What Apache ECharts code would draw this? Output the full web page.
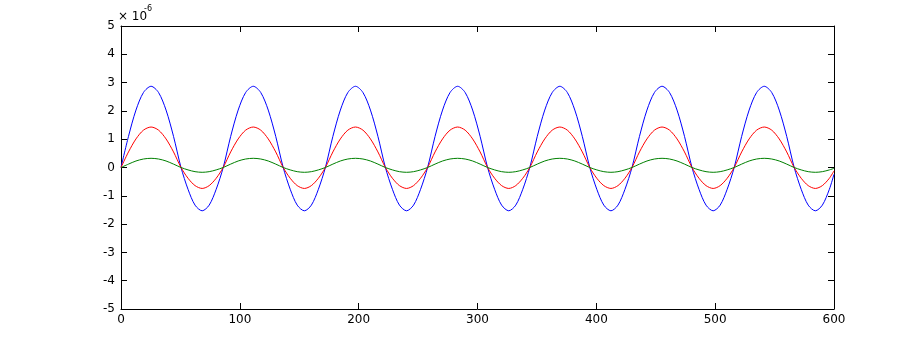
<!DOCTYPE html>
<html>
<head>
<meta charset="utf-8">
<script src="https://cdn.jsdelivr.net/npm/echarts@6/dist/echarts.min.js"></script>
<style>html,body{margin:0;padding:0;background:#fff}#c{width:922px;height:347px}</style>
</head>
<body>
<div id="c"></div>
<script>
// x positions (time) of sampled points
var xs = [
  0, 6.3, 12.6, 18.9, 25.3, 31.6, 37.9, 44.2, 50.5, 56.4, 62.3, 68.3, 74.2, 80.1,
  86, 92.3, 98.6, 104.9, 111.3, 117.6, 123.9, 130.2, 136.5, 142.4, 148.3, 154.3, 160.2, 166.1,
  172, 178.3, 184.6, 190.9, 197.3, 203.6, 209.9, 216.2, 222.5, 228.4, 234.3, 240.3, 246.2, 252.1,
  258, 264.3, 270.6, 276.9, 283.3, 289.6, 295.9, 302.2, 308.5, 314.4, 320.3, 326.3, 332.2, 338.1,
  344, 350.3, 356.6, 362.9, 369.3, 375.6, 381.9, 388.2, 394.5, 400.4, 406.3, 412.3, 418.2, 424.1,
  430, 436.3, 442.6, 448.9, 455.3, 461.6, 467.9, 474.2, 480.5, 486.4, 492.3, 498.3, 504.2, 510.1,
  516, 522.3, 528.6, 534.9, 541.3, 547.6, 553.9, 560.2, 566.5, 572.4, 578.3, 584.3, 590.2, 596.1,
  600
];
// values in units of 1e-6
var blueVals = [
  0, 1.10, 2.03, 2.65, 2.87, 2.65, 2.03, 1.10, 0, -0.77, -1.33, -1.53, -1.33, -0.77,
  0, 1.10, 2.03, 2.65, 2.87, 2.65, 2.03, 1.10, 0, -0.77, -1.33, -1.53, -1.33, -0.77,
  0, 1.10, 2.03, 2.65, 2.87, 2.65, 2.03, 1.10, 0, -0.77, -1.33, -1.53, -1.33, -0.77,
  0, 1.10, 2.03, 2.65, 2.87, 2.65, 2.03, 1.10, 0, -0.77, -1.33, -1.53, -1.33, -0.77,
  0, 1.10, 2.03, 2.65, 2.87, 2.65, 2.03, 1.10, 0, -0.77, -1.33, -1.53, -1.33, -0.77,
  0, 1.10, 2.03, 2.65, 2.87, 2.65, 2.03, 1.10, 0, -0.77, -1.33, -1.53, -1.33, -0.77,
  0, 1.10, 2.03, 2.65, 2.87, 2.65, 2.03, 1.10, 0, -0.77, -1.33, -1.53, -1.33, -0.77,
  -0.24
];
var redVals = [
  0, 0.55, 1.01, 1.32, 1.43, 1.32, 1.01, 0.55, 0, -0.38, -0.64, -0.74, -0.64, -0.38,
  0, 0.55, 1.01, 1.32, 1.43, 1.32, 1.01, 0.55, 0, -0.38, -0.64, -0.74, -0.64, -0.38,
  0, 0.55, 1.01, 1.32, 1.43, 1.32, 1.01, 0.55, 0, -0.38, -0.64, -0.74, -0.64, -0.38,
  0, 0.55, 1.01, 1.32, 1.43, 1.32, 1.01, 0.55, 0, -0.38, -0.64, -0.74, -0.64, -0.38,
  0, 0.55, 1.01, 1.32, 1.43, 1.32, 1.01, 0.55, 0, -0.38, -0.64, -0.74, -0.64, -0.38,
  0, 0.55, 1.01, 1.32, 1.43, 1.32, 1.01, 0.55, 0, -0.38, -0.64, -0.74, -0.64, -0.38,
  0, 0.55, 1.01, 1.32, 1.43, 1.32, 1.01, 0.55, 0, -0.38, -0.64, -0.74, -0.64, -0.38,
  -0.12
];
var greenVals = [
  0, 0.12, 0.23, 0.30, 0.325, 0.30, 0.23, 0.12, 0, -0.085, -0.147, -0.17, -0.147, -0.085,
  0, 0.12, 0.23, 0.30, 0.325, 0.30, 0.23, 0.12, 0, -0.085, -0.147, -0.17, -0.147, -0.085,
  0, 0.12, 0.23, 0.30, 0.325, 0.30, 0.23, 0.12, 0, -0.085, -0.147, -0.17, -0.147, -0.085,
  0, 0.12, 0.23, 0.30, 0.325, 0.30, 0.23, 0.12, 0, -0.085, -0.147, -0.17, -0.147, -0.085,
  0, 0.12, 0.23, 0.30, 0.325, 0.30, 0.23, 0.12, 0, -0.085, -0.147, -0.17, -0.147, -0.085,
  0, 0.12, 0.23, 0.30, 0.325, 0.30, 0.23, 0.12, 0, -0.085, -0.147, -0.17, -0.147, -0.085,
  0, 0.12, 0.23, 0.30, 0.325, 0.30, 0.23, 0.12, 0, -0.085, -0.147, -0.17, -0.147, -0.085,
  -0.03
];
var xTicks = [0, 100, 200, 300, 400, 500, 600];
var yTicks = [-5, -4, -3, -2, -1, 0, 1, 2, 3, 4, 5];
var exponentLabel = '× 10';
var exponentSup = '-6';

function pairs(vals) { return xs.map(function (x, i) { return [x, vals[i]]; }); }

var font = 'DejaVu Sans';
var lineStyle = { color: '#000', width: 1 };
var chart = echarts.init(document.getElementById('c'), null, { renderer: 'canvas' });
function xAx(pos, showLabel) {
  return {
    type: 'value', position: pos, min: xTicks[0], max: xTicks[xTicks.length - 1], interval: 100,
    axisLine: { show: true, onZero: false, lineStyle: lineStyle },
    axisTick: { show: true, inside: true, length: 6, lineStyle: lineStyle },
    axisLabel: { show: showLabel, color: '#000', fontFamily: font, fontSize: 12, margin: 5 },
    splitLine: { show: false }
  };
}
function yAx(pos, showLabel) {
  return {
    type: 'value', position: pos, min: yTicks[0], max: yTicks[yTicks.length - 1], interval: 1,
    axisLine: { show: true, onZero: false, lineStyle: lineStyle },
    axisTick: { show: true, inside: true, length: 6, lineStyle: lineStyle },
    axisLabel: { show: showLabel, color: '#000', fontFamily: font, fontSize: 12, margin: 6 },
    splitLine: { show: false }
  };
}
chart.setOption({
  animation: false,
  backgroundColor: '#fff',
  grid: { left: 121, right: 88, top: 26, bottom: 38, containLabel: false },
  xAxis: [xAx('bottom', true), xAx('top', false)],
  yAxis: [yAx('left', true), yAx('right', false)],
  graphic: [
    { type: 'text', left: 118, top: 11, style: { text: exponentLabel, fontFamily: font, fontSize: 12, fill: '#000' } },
    { type: 'text', left: 144, top: 5, style: { text: exponentSup, fontFamily: font, fontSize: 8, fill: '#000' } }
  ],
  series: [
    { type: 'line', data: pairs(blueVals), showSymbol: false, smooth: 0.3, lineStyle: { color: '#0000ff', width: 1 }, itemStyle: { color: '#0000ff' } },
    { type: 'line', data: pairs(redVals), showSymbol: false, smooth: 0.3, lineStyle: { color: '#ff0000', width: 1 }, itemStyle: { color: '#ff0000' } },
    { type: 'line', data: pairs(greenVals), showSymbol: false, smooth: 0.3, lineStyle: { color: '#008000', width: 1 }, itemStyle: { color: '#008000' } }
  ]
});
</script>
</body>
</html>
